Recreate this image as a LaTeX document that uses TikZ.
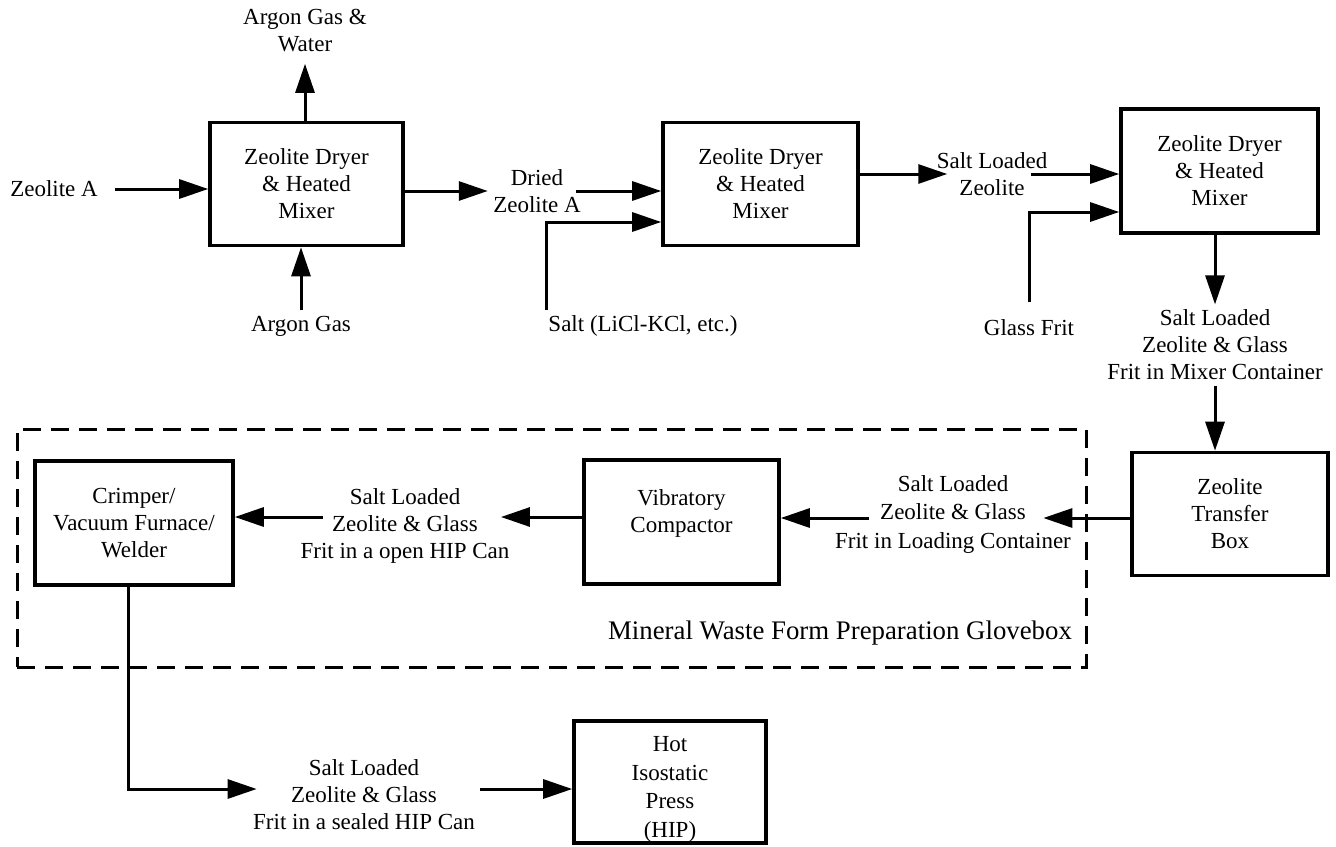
\documentclass[tikz,border=0pt]{standalone}
\usepackage{fontspec}
\setmainfont{Liberation Serif}
\usetikzlibrary{arrows.meta,calc}
\begin{document}
\begin{tikzpicture}[x=0.5pt,y=-0.5pt,line width=1.5pt,
    proc/.style={draw,line width=1.8pt,align=center,minimum width=97pt,minimum height=61.5pt,inner sep=2pt,font=\fontsize{11.5}{13.5}\selectfont},
    lbl/.style={align=center,inner sep=2pt,font=\fontsize{11.5}{13.5}\selectfont},
    flow/.style={-{Triangle[length=14.5pt,width=9.5pt]}}]
  \useasboundingbox (0,0) rectangle (1336,846);

  \node[draw,dashed,dash pattern=on 9pt off 5pt,minimum width=534.5pt,minimum height=119pt,inner sep=0pt] (gbox) at (551.5,548) {};

  \node[proc,minimum width=96.5pt] (dry1) at (306.5,184) {Zeolite Dryer\\\& Heated\\Mixer};
  \node[proc,minimum width=97.5pt] (dry2) at (760.5,184) {Zeolite Dryer\\\& Heated\\Mixer};
  \node[proc,minimum width=98.5pt,minimum height=62pt] (dry3) at (1219.5,171) {Zeolite Dryer\\\& Heated\\Mixer};
  \node[proc,minimum width=98pt] (tbox) at (1230,514) {Zeolite\\Transfer\\Box};
  \node[proc,minimum width=97.5pt,minimum height=62pt] (vib) at (681.5,522) {};
  \node[lbl] (vibtxt) at ([yshift=4.25pt]vib.center) {Vibratory\\Compactor};
  \node[proc,minimum width=99pt,minimum height=62pt] (crimp) at (134,523) {Crimper/\\Vacuum Furnace/\\Welder};
  \node[proc,minimum width=96pt,minimum height=61pt] (hip) at (670,782) {};
  \node[lbl,font=\fontsize{11.5}{14.25}\selectfont] (hiptxt) at ([yshift=-3.75pt]hip.center) {Hot\\Isostatic\\Press\\(HIP)};

  \node[lbl] (argW) at (305,31) {Argon Gas \&\\Water};
  \node[lbl] (argG) at (301,326) {Argon Gas};
  \node[lbl] (zeoA) at (54,189) {Zeolite A};
  \node[lbl] (dried) at (537,191) {Dried\\Zeolite A};
  \node[lbl] (salt) at (643,326) {Salt (LiCl-KCl, etc.)};
  \node[lbl] (sz) at (992,174) {Salt Loaded\\Zeolite};
  \node[lbl] (gfrit) at (1029,328) {Glass Frit};
  \node[lbl] (mixc) at (1215,345) {Salt Loaded\\Zeolite \& Glass\\Frit in Mixer Container};
  \node[lbl,font=\fontsize{11.5}{14.25}\selectfont] (loadc) at (953,514) {Salt Loaded\\Zeolite \& Glass\\Frit in Loading Container};
  \node[lbl] (openc) at (405,526) {Salt Loaded\\Zeolite \& Glass\\Frit in a open HIP Can};
  \node[lbl] (sealc) at (364,795) {Salt Loaded\\Zeolite \& Glass\\Frit in a sealed HIP Can};
  \node[lbl,font=\fontsize{13.4}{16}\selectfont] (glove) at (840,633) {Mineral Waste Form Preparation Glovebox};

  \draw[flow,shorten <=6pt] (zeoA) -- (zeoA -| dry1.west);
  \draw[flow,shorten >=3pt] (argW |- dry1.north) -- (argW);
  \draw[flow] (argG) -- (argG |- dry1.south);
  \draw[flow] (dry1.east |- dried) -- (dried);
  \draw[flow] ([xshift=-5pt]dried.east) -- (dried.east -| dry2.west);
  \draw[flow] ([xshift=2pt]salt.north west) |- ($(dry2.west)+(0,38)$);
  \draw[flow] (dry2.east |- sz) -- ([xshift=8pt]sz.west);
  \draw[flow] ([xshift=-11pt]sz.east) -- (sz.east -| dry3.west);
  \draw[flow,shorten <=6pt] (gfrit) |- ($(dry3.west)+(0,41)$);
  \draw[flow] (dry3.south -| mixc) -- (mixc);
  \draw[flow] (mixc) -- (mixc |- tbox.north);
  \draw[flow] ([yshift=-2pt]tbox.west) -- ([xshift=-16.5pt,yshift=-2pt]loadc.east);
  \draw[flow] ([xshift=19.5pt,yshift=-2pt]loadc.west) -- ([yshift=2pt]vib.east);
  \draw[flow] ([yshift=2.5pt]vib.west) -- ([xshift=-7pt,yshift=4.5pt]openc.east);
  \draw[flow] ([xshift=14pt,yshift=4.5pt]openc.west) -- ([yshift=3pt]crimp.east);
  \draw[flow] ([xshift=-3pt]crimp.south) |- ([xshift=4.5pt,yshift=3pt]sealc.west);
  \draw[flow] ([yshift=3pt]sealc.east) -- ([yshift=3pt]sealc.east -| hip.west);
\end{tikzpicture}
\end{document}
